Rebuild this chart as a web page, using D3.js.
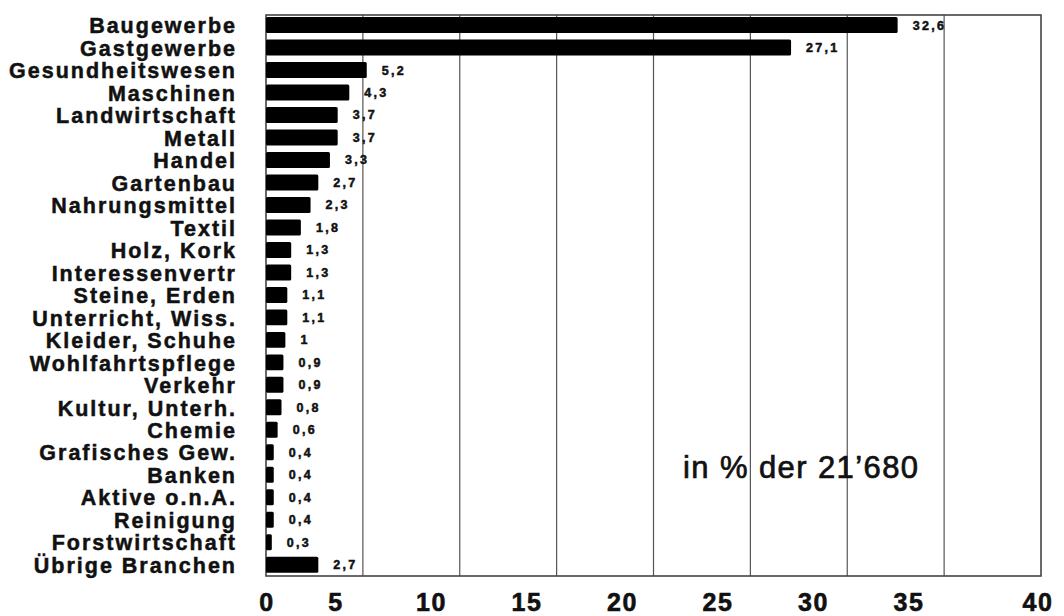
<!DOCTYPE html>
<html>
<head>
<meta charset="utf-8">
<script src="https://cdn.jsdelivr.net/npm/d3@7"></script>
<style>
  html, body { margin: 0; padding: 0; background: #fff; }
  svg { display: block; }
</style>
</head>
<body>
<svg id="chart" width="1064" height="616"></svg>
<script>
const categories = [
  "Baugewerbe", "Gastgewerbe", "Gesundheitswesen", "Maschinen", "Landwirtschaft",
  "Metall", "Handel", "Gartenbau", "Nahrungsmittel", "Textil",
  "Holz, Kork", "Interessenvertr", "Steine, Erden", "Unterricht, Wiss.", "Kleider, Schuhe",
  "Wohlfahrtspflege", "Verkehr", "Kultur, Unterh.", "Chemie", "Grafisches Gew.",
  "Banken", "Aktive o.n.A.", "Reinigung", "Forstwirtschaft", "Übrige Branchen"
];
const values = [
  32.6, 27.1, 5.2, 4.3, 3.7,
  3.7, 3.3, 2.7, 2.3, 1.8,
  1.3, 1.3, 1.1, 1.1, 1,
  0.9, 0.9, 0.8, 0.6, 0.4,
  0.4, 0.4, 0.4, 0.3, 2.7
];
const tickValues = [0, 5, 10, 15, 20, 25, 30, 35, 40];
const noteText = "in % der 21\u2019680";

(function () {
const svg = d3.select("#chart");
const mLeft = 266, mRight = 1041, mTop = 13.8, mBottom = 576, frameTop = 15;

const x = d3.scaleLinear().domain([0, 40]).range([mLeft, mRight]);
const y = d3.scaleBand().domain(categories).range([mTop, mBottom])
  .paddingInner(0.29).paddingOuter(0.145);
// tick labels in the scan sit slightly off the grid lines
const xLabel = d3.scaleLinear().domain([0, 5, 35, 40]).range([267, 336, 909, 1038]);

const fmt = v => String(v).replace(".", ",");
const font = "'Liberation Sans', Arial, sans-serif";

// grid lines
svg.append("g").selectAll("line").data(tickValues.slice(1, -1)).join("line")
  .attr("x1", d => x(d)).attr("x2", d => x(d))
  .attr("y1", frameTop).attr("y2", mBottom)
  .attr("stroke", "#555").attr("stroke-width", 1.2);

// frame
svg.append("rect")
  .attr("x", x(0)).attr("y", frameTop)
  .attr("width", x(40) - x(0)).attr("height", mBottom - frameTop)
  .attr("fill", "none").attr("stroke", "#444").attr("stroke-width", 1.6);

// bars
svg.append("g").selectAll("rect").data(categories).join("rect")
  .attr("x", x(0))
  .attr("y", d => y(d))
  .attr("width", (d, i) => x(values[i]) - x(0))
  .attr("height", y.bandwidth())
  .attr("rx", 1.5)
  .attr("fill", "#000");

// value labels
svg.append("g").selectAll("text").data(categories).join("text")
  .attr("x", (d, i) => x(values[i]) + 15)
  .attr("y", d => y(d) + y.bandwidth() / 2)
  .attr("dy", "0.36em")
  .attr("font-family", font)
  .attr("font-weight", "bold")
  .attr("font-size", 12.5)
  .attr("letter-spacing", 2.3)
  .attr("fill", "#111")
  .attr("stroke", "#111").attr("stroke-width", 0.5)
  .text((d, i) => fmt(values[i]));

// category labels
svg.append("g").selectAll("text").data(categories).join("text")
  .attr("x", 237)
  .attr("y", d => y(d) + y.bandwidth() / 2)
  .attr("dy", "0.38em")
  .attr("text-anchor", "end")
  .attr("font-family", font)
  .attr("font-weight", "bold")
  .attr("font-size", 21.5)
  .attr("letter-spacing", 2)
  .attr("fill", "#111")
  .attr("stroke", "#111").attr("stroke-width", 0.5)
  .text(d => d);

// x tick labels
svg.append("g").selectAll("text").data(tickValues).join("text")
  .attr("x", d => xLabel(d))
  .attr("y", 610.5)
  .attr("text-anchor", "middle")
  .attr("font-family", font)
  .attr("font-weight", "bold")
  .attr("font-size", 25)
  .attr("letter-spacing", 1.5)
  .attr("fill", "#111")
  .attr("stroke", "#111").attr("stroke-width", 0.6)
  .text(d => d);

// note
svg.append("text")
  .attr("x", 683).attr("y", 478)
  .attr("font-family", font)
  .attr("font-size", 31)
  .attr("letter-spacing", 1.4)
  .attr("fill", "#111")
  .attr("stroke", "#111").attr("stroke-width", 0.7)
  .text(noteText);
})();
</script>
</body>
</html>
